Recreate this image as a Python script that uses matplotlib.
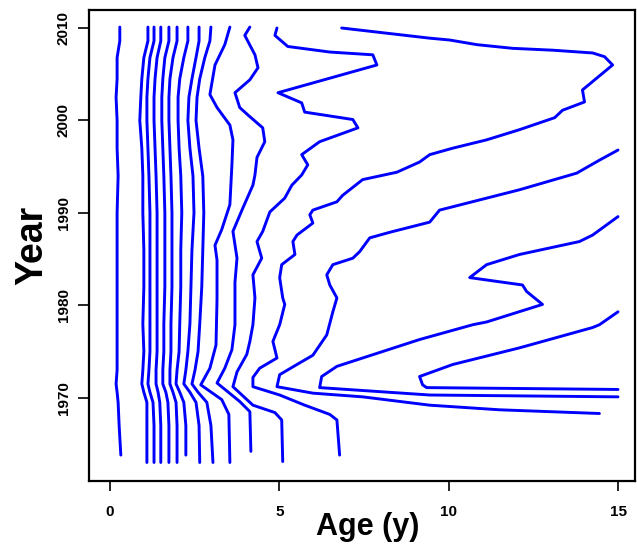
import matplotlib
matplotlib.use("Agg")
from matplotlib import pyplot as plt

# years shared by the near-vertical lines on the left
years_dense = [2010.1, 2008.6, 2006.8, 2004.5, 2002.5, 2000.0, 1997.0, 1994.0, 1990.0, 1986.0,
               1982.0, 1978.0, 1975.0, 1973.0, 1971.5, 1970.6, 1969.5, 1967.0, 1963.0]
years_dense_short = years_dense[:-1] + [1963.8]

age_l1 = [0.29, 0.29, 0.21, 0.21, 0.18, 0.21, 0.21, 0.24, 0.21, 0.21, 0.21, 0.21, 0.21, 0.21, 0.18, 0.21, 0.24, 0.27, 0.32]
age_l2 = [1.12, 1.12, 1.00, 0.94, 0.91, 0.88, 0.94, 0.97, 0.97, 1.00, 1.00, 0.97, 1.00, 0.97, 0.94, 1.00, 1.09, 1.09, 1.09]
age_l3 = [1.30, 1.30, 1.18, 1.12, 1.09, 1.09, 1.12, 1.15, 1.18, 1.18, 1.18, 1.18, 1.18, 1.15, 1.12, 1.18, 1.27, 1.30, 1.30]
age_l4 = [1.50, 1.50, 1.39, 1.33, 1.30, 1.30, 1.33, 1.36, 1.39, 1.39, 1.39, 1.39, 1.39, 1.36, 1.36, 1.42, 1.47, 1.50, 1.50]
age_l5 = [1.74, 1.74, 1.62, 1.56, 1.53, 1.53, 1.56, 1.59, 1.62, 1.62, 1.62, 1.59, 1.59, 1.56, 1.56, 1.65, 1.71, 1.74, 1.74]
age_l6 = [1.98, 1.98, 1.86, 1.77, 1.74, 1.74, 1.77, 1.80, 1.83, 1.83, 1.83, 1.80, 1.80, 1.77, 1.77, 1.86, 1.95, 1.98, 1.98]
age_l7 = [2.30, 2.30, 2.18, 2.06, 2.01, 2.01, 2.04, 2.09, 2.12, 2.09, 2.09, 2.06, 2.04, 1.98, 1.95, 2.06, 2.18, 2.24, 2.24]
age_l8 = [2.63, 2.63, 2.54, 2.42, 2.33, 2.30, 2.36, 2.45, 2.48, 2.42, 2.39, 2.36, 2.30, 2.24, 2.18, 2.36, 2.54, 2.63, 2.65]
age_l9 = [2.98, 2.95, 2.80, 2.65, 2.57, 2.54, 2.63, 2.74, 2.77, 2.74, 2.71, 2.65, 2.60, 2.51, 2.42, 2.60, 2.86, 2.98, 3.04]

age_l10 = [3.54, 3.39, 3.10, 2.95, 3.16, 3.54, 3.63, 3.60, 3.54, 3.30, 3.10, 3.16, 3.16, 3.13, 2.95, 2.68, 3.30, 3.51, 3.54]
year_l10 = [2010.1, 2008.2, 2006.0, 2002.8, 2001.4, 1999.5, 1997.9, 1995.2, 1990.9, 1988.2, 1986.5, 1984.9,
            1980.6, 1975.7, 1973.2, 1971.4, 1969.8, 1968.2, 1963.0]

age_l11 = [4.13, 3.98, 4.28, 4.37, 4.13, 3.69, 3.83, 4.07, 4.51, 4.57, 4.34, 4.28, 4.22, 3.92, 3.63, 3.75,
           3.69, 3.69, 3.60, 3.39, 3.16, 3.83, 4.13, 4.16]
year_l11 = [2010.1, 2009.2, 2007.1, 2005.7, 2004.4, 2003.0, 2001.4, 2000.6, 1999.2, 1997.7, 1996.0, 1994.1,
            1993.0, 1990.5, 1988.0, 1985.1, 1982.5, 1977.9, 1975.2, 1973.2, 1971.6, 1969.6, 1968.5, 1964.2]

age_l12 = [4.93, 4.87, 5.25, 6.49, 7.76, 7.88, 4.96, 5.66, 5.75, 7.17, 7.32, 6.19, 5.66, 5.84, 5.66, 5.37,
           5.16, 4.72, 4.51, 4.34, 4.48, 4.22, 4.28, 4.22, 4.13, 4.04, 3.75, 3.63, 4.22, 4.87, 5.07, 5.10]
year_l12 = [2010.0, 2009.2, 2008.0, 2007.4, 2007.1, 2006.0, 2003.0, 2001.9, 2000.9, 2000.1, 1999.2, 1997.7,
            1996.3, 1995.2, 1994.1, 1993.0, 1991.6, 1990.1, 1988.0, 1986.9, 1985.1, 1983.3, 1980.8, 1977.9,
            1976.1, 1974.7, 1972.8, 1971.2, 1969.2, 1968.4, 1967.6, 1963.1]

age_l13 = [6.84, 9.44, 10.03, 10.83, 11.89, 13.07, 14.25, 14.60, 14.84, 13.95, 14.01, 13.36, 13.13, 12.09,
           11.12, 10.12, 9.44, 9.14, 8.47, 7.46, 6.87, 6.70, 5.99, 5.90, 5.99, 5.52, 5.40, 5.46, 5.07, 5.01,
           5.10, 5.16, 5.01, 4.81, 4.93, 4.42, 4.22, 4.22, 5.01, 5.75, 6.49, 6.70, 6.78]
year_l13 = [2010.0, 2008.9, 2008.7, 2008.2, 2007.8, 2007.6, 2007.3, 2006.9, 2006.0, 2003.3, 2002.0, 2001.1,
            2000.3, 1999.0, 1997.9, 1997.0, 1996.3, 1995.5, 1994.4, 1993.6, 1991.9, 1991.2, 1990.3, 1989.8,
            1988.9, 1987.6, 1986.9, 1985.5, 1984.4, 1983.0, 1980.8, 1980.1, 1977.9, 1976.1, 1974.3, 1973.2,
            1972.2, 1971.2, 1970.3, 1969.2, 1968.2, 1967.6, 1963.8]

age_l14 = [15.0, 14.45, 13.78, 12.09, 9.73, 9.44, 8.26, 7.67, 7.37, 7.17, 6.58, 6.40, 6.49, 6.70, 6.58,
           6.40, 5.99, 5.52, 5.01, 4.93, 5.99, 7.46, 9.44, 11.50, 14.45]
year_l14 = [1996.8, 1995.7, 1994.3, 1992.5, 1990.3, 1989.0, 1987.9, 1987.3, 1985.8, 1985.1, 1984.4, 1983.3,
            1982.2, 1980.8, 1979.3, 1976.8, 1974.6, 1973.6, 1972.5, 1971.2, 1970.5, 1970.1, 1969.2, 1968.7, 1968.3]

age_l15 = [15.0, 14.25, 13.86, 12.09, 11.12, 10.62, 12.18, 12.30, 12.77, 11.12, 10.71, 9.14, 6.70, 6.25,
           6.19, 9.44, 15.0]
year_l15 = [1989.6, 1987.6, 1986.9, 1985.5, 1984.4, 1983.0, 1982.2, 1981.5, 1980.1, 1978.2, 1977.9, 1976.3,
            1973.4, 1972.3, 1971.1, 1970.3, 1970.1]

age_l16 = [15.0, 14.45, 14.25, 12.09, 10.12, 9.14, 9.23, 9.35, 15.0]
year_l16 = [1979.3, 1977.9, 1977.6, 1975.4, 1973.6, 1972.3, 1971.4, 1971.1, 1970.9]

x_ticks = [0, 5, 10, 15]
y_ticks = [1970, 1980, 1990, 2000, 2010]

lines = [(age_l1, years_dense_short), (age_l2, years_dense), (age_l3, years_dense),
         (age_l4, years_dense), (age_l5, years_dense), (age_l6, years_dense),
         (age_l7, years_dense_short), (age_l8, years_dense), (age_l9, years_dense),
         (age_l10, year_l10), (age_l11, year_l11), (age_l12, year_l12), (age_l13, year_l13),
         (age_l14, year_l14), (age_l15, year_l15), (age_l16, year_l16)]

plt.rcParams['font.family'] = ['Liberation Sans', 'DejaVu Sans']
fig = plt.figure(figsize=(6.37, 5.48), dpi=100)
ax = fig.add_axes([0.1397, 0.1223, 0.8571, 0.8595])

# contour lines
for a, y in lines:
    ax.plot(a, y, color='#0000ff', lw=2.1, solid_joinstyle='round', solid_capstyle='round')

ax.set_xlim(-0.62, 15.5)
ax.set_ylim(1961.0, 2011.95)
ax.set_xticks(x_ticks)
ax.set_yticks(y_ticks)
ax.set_xticklabels([str(t) for t in x_ticks], fontsize=11, fontweight='bold')
ax.set_yticklabels([str(t) for t in y_ticks], fontsize=11, fontweight='bold', rotation=90, va='center')
ax.tick_params(axis='x', length=7, width=1.2, pad=10)
ax.tick_params(axis='y', length=8, width=1.2, pad=5)
for s in ax.spines.values():
    s.set_linewidth(1.6)

fig.text(0.578, 0.038, 'Age (y)', fontsize=22, fontweight='bold', ha='center', va='center')
fig.text(0.05, 0.553, 'Year', fontsize=27, fontweight='bold', ha='center', va='center', rotation=90)

fig.savefig('out.png', dpi=100)
